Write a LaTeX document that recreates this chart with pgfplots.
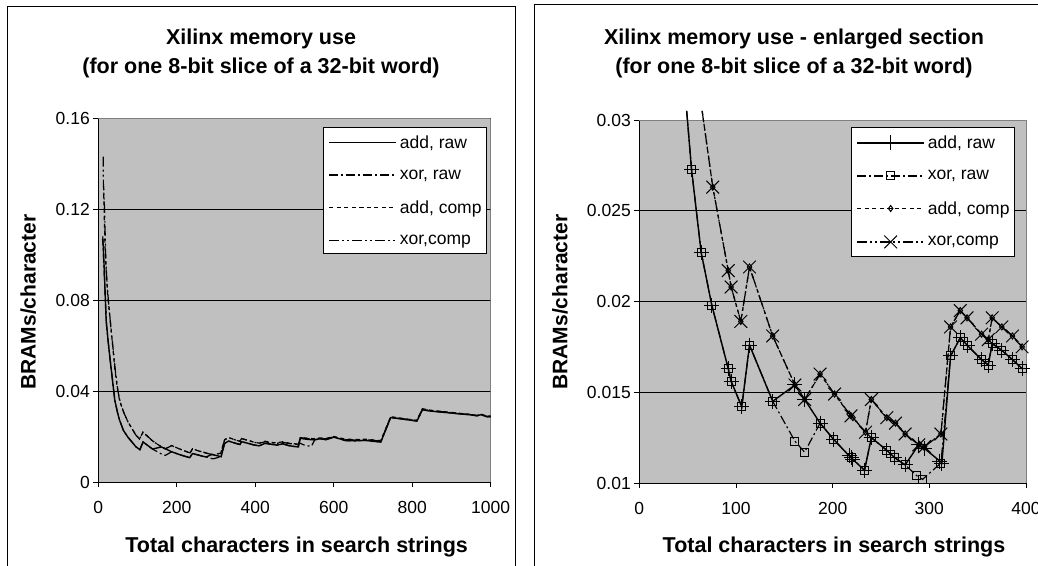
\documentclass[border=0pt]{standalone}
\usepackage{fontspec}
\setmainfont{Liberation Sans}
\usepackage{pgfplots}
\usepackage{pgfplotstable}
\pgfplotsset{compat=1.18}

\definecolor{plotbg}{HTML}{C0C0C0}
\definecolor{plotframe}{HTML}{808080}

% full series (left chart)
\pgfplotstableread{
x y
11 0.107
12.5 0.104
15 0.094
17 0.085
20 0.071
25 0.062
30 0.054
36 0.045
42 0.036
49 0.0305
54 0.0273
64 0.0227
75 0.0198
92 0.0163
95 0.0156
106 0.0142
114 0.0176
138 0.0145
161 0.0154
171 0.0146
187 0.0133
201 0.0124
217 0.0115
219 0.0114
221 0.0113
233 0.0107
240 0.0125
256 0.0118
264 0.0114
275 0.0110
289 0.0121
295 0.0119
311 0.0112
313 0.0111
322 0.0170
332 0.0180
339 0.0176
354 0.0168
361 0.0165
365 0.0177
375 0.0173
386 0.0168
396 0.0163
410 0.0159
425 0.0170
440 0.0166
455 0.0162
470 0.0168
485 0.0160
500 0.0156
510 0.0154
515 0.0192
530 0.0188
550 0.0185
565 0.0190
580 0.0186
600 0.0197
615 0.0190
630 0.0182
655 0.0181
680 0.0183
700 0.0179
720 0.0176
745 0.0283
770 0.0278
790 0.0273
812 0.0268
826 0.0318
845 0.0312
870 0.0308
900 0.0303
925 0.0299
950 0.0295
965 0.0291
975 0.0296
990 0.0287
1000 0.0287
}\fA

\pgfplotstableread{
x y
11.5 0.108
13 0.100
15 0.092
18 0.080
21 0.069
25 0.062
30 0.054
36 0.045
42 0.036
49 0.0305
54 0.0273
64 0.0227
75 0.0198
92 0.0163
95 0.0156
106 0.0142
114 0.0176
138 0.0145
161 0.0123
171 0.0117
187 0.0133
201 0.0124
219 0.0114
233 0.0107
240 0.0125
256 0.0118
264 0.0114
275 0.0110
287 0.0104
293 0.0102
312 0.0111
322 0.0170
332 0.0180
339 0.0176
354 0.0168
361 0.0165
365 0.0177
375 0.0173
386 0.0168
396 0.0163
410 0.0159
425 0.0170
440 0.0166
455 0.0162
470 0.0168
485 0.0160
500 0.0156
505 0.0156
512 0.0172
528 0.0160
543 0.0157
552 0.0186
565 0.0190
580 0.0186
600 0.0197
615 0.0190
630 0.0182
655 0.0181
680 0.0183
700 0.0179
720 0.0176
745 0.0283
770 0.0278
790 0.0273
812 0.0268
826 0.0318
845 0.0312
870 0.0308
900 0.0303
925 0.0299
950 0.0295
965 0.0291
975 0.0296
990 0.0287
1000 0.0287
}\fB

\pgfplotstableread{
x y
13.5 0.130
15 0.118
17 0.104
20 0.093
24 0.082
30 0.072
36 0.061
42 0.050
48 0.042
54 0.036
60 0.0330
65 0.0305
76 0.0263
92 0.0217
95 0.0208
105 0.0189
114 0.0219
138 0.0181
161 0.0154
171 0.0146
187 0.0160
202 0.0149
217 0.0138
219 0.0137
221 0.0136
234 0.0128
240 0.0146
256 0.0136
265 0.0133
275 0.0127
289 0.0121
295 0.0120
312 0.0127
322 0.0186
332 0.0195
339 0.0191
354 0.0182
361 0.0179
365 0.0191
375 0.0186
386 0.0181
396 0.0175
410 0.0171
425 0.0179
440 0.0174
455 0.0172
470 0.0177
485 0.0171
500 0.0168
510 0.0166
515 0.0196
530 0.0193
550 0.0190
565 0.0194
580 0.0191
600 0.0200
615 0.0194
630 0.0188
655 0.0187
680 0.0188
700 0.0185
720 0.0182
745 0.0287
770 0.0281
790 0.0276
812 0.0271
826 0.0322
845 0.0316
870 0.0311
900 0.0306
925 0.0301
950 0.0297
965 0.0293
975 0.0298
990 0.0290
1000 0.0290
}\fC

\pgfplotstableread{
x y
12.5 0.143
13 0.131
16 0.120
19 0.098
22 0.088
27 0.077
32 0.068
38 0.058
44 0.048
50 0.040
56 0.035
61 0.0325
65 0.0305
76 0.0263
92 0.0217
95 0.0208
105 0.0189
114 0.0219
138 0.0181
161 0.0154
171 0.0146
187 0.0160
202 0.0149
219 0.0137
234 0.0128
240 0.0146
256 0.0136
265 0.0133
275 0.0127
289 0.0121
295 0.0120
312 0.0127
322 0.0186
332 0.0195
339 0.0191
354 0.0182
361 0.0179
365 0.0191
375 0.0186
386 0.0181
396 0.0175
410 0.0170
425 0.0177
440 0.0173
455 0.0170
470 0.0175
485 0.0169
500 0.0167
510 0.0165
515 0.0195
530 0.0191
550 0.0189
565 0.0192
580 0.0190
600 0.0199
615 0.0192
630 0.0186
655 0.0185
680 0.0186
700 0.0183
720 0.0180
745 0.0285
770 0.0279
790 0.0275
812 0.0270
826 0.0320
845 0.0314
870 0.0310
900 0.0305
925 0.0300
950 0.0296
965 0.0292
975 0.0297
990 0.0289
1000 0.0289
}\fD

% enlarged section (right chart)
\pgfplotstableread{
x y
49 0.0305
54 0.0273
64 0.0227
75 0.0198
92 0.0163
95 0.0156
106 0.0142
114 0.0176
138 0.0145
161 0.0154
171 0.0146
187 0.0133
201 0.0124
217 0.0115
219 0.0114
221 0.0113
233 0.0107
240 0.0125
256 0.0118
264 0.0114
275 0.0110
289 0.0121
295 0.0119
311 0.0112
313 0.0111
322 0.0170
332 0.0180
339 0.0176
354 0.0168
361 0.0165
365 0.0177
375 0.0173
386 0.0168
396 0.0163
}\rA

\pgfplotstableread{
x y
49 0.0305
54 0.0273
64 0.0227
75 0.0198
92 0.0163
95 0.0156
106 0.0142
114 0.0176
138 0.0145
161 0.0123
171 0.0117
187 0.0133
201 0.0124
219 0.0114
233 0.0107
240 0.0125
256 0.0118
264 0.0114
275 0.0110
287 0.0104
293 0.0102
312 0.0111
322 0.0170
332 0.0180
339 0.0176
354 0.0168
361 0.0165
365 0.0177
375 0.0173
386 0.0168
396 0.0163
}\rB

\pgfplotstableread{
x y
65 0.0305
76 0.0263
92 0.0217
95 0.0208
105 0.0189
114 0.0219
138 0.0181
161 0.0154
171 0.0146
187 0.0160
202 0.0149
217 0.0138
219 0.0137
221 0.0136
234 0.0128
240 0.0146
256 0.0136
265 0.0133
275 0.0127
289 0.0121
295 0.0120
312 0.0127
322 0.0186
332 0.0195
339 0.0191
354 0.0182
361 0.0179
365 0.0191
375 0.0186
386 0.0181
396 0.0175
}\rC

\pgfplotstableread{
x y
65 0.0305
76 0.0263
92 0.0217
95 0.0208
105 0.0189
114 0.0219
138 0.0181
161 0.0154
171 0.0146
187 0.0160
202 0.0149
219 0.0137
234 0.0128
240 0.0146
256 0.0136
265 0.0133
275 0.0127
289 0.0121
295 0.0120
312 0.0127
322 0.0186
332 0.0195
339 0.0191
354 0.0182
361 0.0179
365 0.0191
375 0.0186
386 0.0181
396 0.0175
}\rD

\pgfplotsset{
  xl/.style={
    scale only axis, anchor=south west,
    axis lines*=left, axis line style={-, black, line width=0.9pt},
    axis background/.style={fill=plotbg, draw=plotframe, line width=0.9pt},
    ymajorgrids, grid style={black, line width=0.8pt},
    tick align=outside, major tick length=5pt,
    tick style={black, line width=0.8pt},
    scaled ticks=false,
    ticklabel style={font=\fontsize{17.5}{17.5}\selectfont},
    xticklabel style={yshift=-11pt},
    legend cell align=left,
    legend style={anchor=north east, draw=black, line width=0.9pt, fill=white,
      font=\fontsize{17.5}{20}\selectfont, inner xsep=5pt, inner ysep=8pt,
      row sep=20pt, column sep=3pt, nodes={inner sep=0pt}},
    legend image code/.code={\draw[##1, mark repeat=2, mark phase=2] plot coordinates {(6pt,0pt) (39.5pt,0pt) (73pt,0pt)};},
  },
  lA/.style={black, line width=1.4pt, solid},
  lB/.style={black, line width=1.2pt, dash pattern=on 9pt off 3pt on 2pt off 3pt},
  lC/.style={black, line width=1.2pt, dash pattern=on 4pt off 3.5pt},
  lD/.style={black, line width=1.2pt, dash pattern=on 10pt off 3pt on 2pt off 3pt on 2pt off 3pt},
}

\begin{document}
\begin{tikzpicture}[x=1pt,y=1pt]
\useasboundingbox (0,0) rectangle (1038,565);
\draw[line width=1pt] (7.3,-20) -- (7.3,558.5) -- (515,558.5) -- (515,-20);
\draw[line width=1pt] (534,-20) -- (534,560.7) -- (1060,560.7);

% left chart
\node[anchor=base, font=\bfseries\fontsize{21.5}{26}\selectfont] at (261,520.3) {Xilinx memory use};
\node[anchor=base, font=\bfseries\fontsize{21.5}{26}\selectfont] at (261,491.3) {(for one 8-bit slice of a 32-bit word)};
\node[anchor=base, font=\bfseries\fontsize{21.5}{26}\selectfont] at (296.7,13) {Total characters in search strings};
\node[anchor=base, rotate=90, font=\bfseries\fontsize{21}{26}\selectfont] at (35.7,263) {BRAMs/character};

\begin{axis}[xl, at={(98.3pt,83pt)}, width=392.4pt, height=364pt,
  xmin=0, xmax=1000, ymin=0, ymax=0.16,
  xtick={0,200,400,600,800,1000}, xticklabels={0,200,400,600,800,1000},
  ytick={0,0.04,0.08,0.12,0.16}, yticklabels={0,0.04,0.08,0.12,0.16},
  legend style={at={(0.9906,0.9753)}}]
\draw[plotframe, line width=0.9pt] (rel axis cs:0,1) -- (rel axis cs:1,1) -- (rel axis cs:1,0);
\addplot[lA] table {\fA};
\addplot[lB] table {\fB};
\addplot[lC] table {\fC};
\addplot[lD] table {\fD};
\legend{{add, raw},{xor, raw},{add, comp},{xor,comp}}
\end{axis}

% right chart
\node[anchor=base, font=\bfseries\fontsize{21.5}{26}\selectfont] at (794,520.3) {Xilinx memory use - enlarged section};
\node[anchor=base, font=\bfseries\fontsize{21.5}{26}\selectfont] at (794,491.3) {(for one 8-bit slice of a 32-bit word)};
\node[anchor=base, font=\bfseries\fontsize{21.5}{26}\selectfont] at (834,13) {Total characters in search strings};
\node[anchor=base, rotate=90, font=\bfseries\fontsize{21}{26}\selectfont] at (567.3,263) {BRAMs/character};

\begin{axis}[xl, at={(639.3pt,82pt)}, width=386.7pt, height=363pt, clip=false,
  xmin=0, xmax=400, ymin=0.01, ymax=0.03,
  xtick={0,100,200,300,400}, xticklabels={0,100,200,300,400},
  ytick={0.01,0.015,0.02,0.025,0.03}, yticklabels={0.01,0.015,0.02,0.025,0.03},
  legend style={at={(0.9716,0.9807)}}]
\draw[plotframe, line width=0.9pt] (rel axis cs:0,1) -- (rel axis cs:1,1) -- (rel axis cs:1,0);
\addplot[lA, mark=+, mark phase=2, mark options={solid, line width=1pt, mark size=7.5pt}] table {\rA};
\addplot[lB, mark=square, mark phase=2, mark options={solid, line width=1pt, mark size=4pt}] table {\rB};
\addplot[lC, mark=diamond, mark phase=2, mark options={solid, line width=1pt, mark size=3pt}] table {\rC};
\addplot[lD, mark=x, mark phase=2, mark options={solid, line width=1pt, mark size=9pt}] table {\rD};
\legend{{add, raw},{xor, raw},{add, comp},{xor,comp}}
\end{axis}
\end{tikzpicture}
\end{document}
